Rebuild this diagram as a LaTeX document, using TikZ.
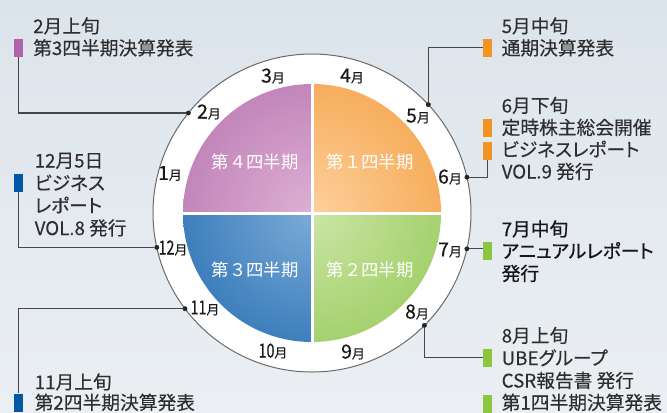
\documentclass[tikz,border=0pt]{standalone}
\usepackage{fontspec}
\usepackage{graphicx}
\setmainfont{Noto Sans CJK JP}
\newfontfamily\jp{Noto Sans CJK JP}
\newfontfamily\jpr[FakeBold=0.2,RawFeature=+palt]{Noto Sans CJK JP}
\newfontfamily\jpm[FakeBold=0.4]{Noto Sans CJK JP}
\newfontfamily\jpb[FakeBold=0.8,RawFeature=+palt]{Noto Sans CJK JP}
\usetikzlibrary{calc}
\definecolor{bgA}{HTML}{DCE4EB}
\definecolor{bgB}{HTML}{EBEFF3}
\definecolor{ringc}{HTML}{6A6A6A}
\definecolor{lnc}{HTML}{474747}
\definecolor{txtc}{HTML}{2E2E2E}
\definecolor{txtb}{HTML}{161616}
\definecolor{q1i}{HTML}{FCD09C}
\definecolor{q1o}{HTML}{F28C1E}
\definecolor{q2i}{HTML}{CCE5A5}
\definecolor{q2o}{HTML}{7DBD36}
\definecolor{q3i}{HTML}{7BABD7}
\definecolor{q3o}{HTML}{0052A2}
\definecolor{q4i}{HTML}{DDB0D4}
\definecolor{q4o}{HTML}{A85CA1}
\definecolor{mpur}{HTML}{B262A8}
\definecolor{mora}{HTML}{F39322}
\definecolor{mblu}{HTML}{0058A8}
\definecolor{mgre}{HTML}{8CC63E}
\newcommand\mo[1]{{\fontsize{19.5}{21}\selectfont #1}{\fontsize{13}{15}\selectfont 月}}
\newcommand\mt[1]{\mo{\scalebox{0.74}[1]{#1}}}
\tikzset{
  lbl/.style={anchor=base west, inner sep=0pt, text=txtc, font=\jpr\fontsize{18.8}{22}\selectfont},
  lblb/.style={lbl, text=txtb, font=\jpb\fontsize{18.8}{22}\selectfont},
  mk/.style={rectangle, inner sep=0pt, minimum width=9bp, minimum height=18bp},
  mon/.style={inner sep=0pt, text=black!90, font=\jpm},
  ql/.style={text=white, inner sep=0pt, font=\jp\fontsize{17.4}{20}\selectfont},
  ln/.style={draw=lnc, line width=1.2bp},
  dotc/.style={circle, fill=black!85, inner sep=0pt, minimum size=4.6bp},
}
\begin{document}
\begin{tikzpicture}[x=1bp,y=-1bp]
\useasboundingbox (0,0) rectangle (667,412);
\shade[top color=bgA, bottom color=bgB] (0,0) rectangle (667,412);
\coordinate (c) at (312,213);
% ring
\fill[white, draw=ringc, line width=1bp] (c) circle (159);
% quadrants
\begin{scope}
  \clip (c) circle (129);
  \begin{scope}\clip (c) rectangle ++(130,-130);
    \shade[inner color=q1i, outer color=q1o] (c) circle (258);\end{scope}
  \begin{scope}\clip (c) rectangle ++(130,130);
    \shade[inner color=q2i, outer color=q2o] (c) circle (258);\end{scope}
  \begin{scope}\clip (c) rectangle ++(-130,130);
    \shade[inner color=q3i, outer color=q3o] (c) circle (258);\end{scope}
  \begin{scope}\clip (c) rectangle ++(-130,-130);
    \shade[inner color=q4i, outer color=q4o] (c) circle (258);\end{scope}
\end{scope}
\draw[white, line width=3bp] ($(c)+(-131,0)$) -- ($(c)+(131,0)$);
\draw[white, line width=3bp] ($(c)+(0,-131)$) -- ($(c)+(0,131)$);
% quadrant labels
\node[ql] (q4) at (255,161.7) {第４四半期};
\node[ql] (q1) at (370,161.7) {第１四半期};
\node[ql] (q3) at (255,270) {第３四半期};
\node[ql] (q2) at (370,270) {第２四半期};
% month labels
\node[mon] (m3) at (273,76) {\mo{3}};
\node[mon] (m4) at (352,76) {\mo{4}};
\node[mon] (m5) at (418,116) {\mo{5}};
\node[mon] (m6) at (450,177) {\mo{6}};
\node[mon] (m7) at (450,250) {\mo{7}};
\node[mon] (m8) at (417,312) {\mo{8}};
\node[mon] (m9) at (353,352) {\mo{9}};
\node[mon] (m10) at (273,351) {\mt{10}};
\node[mon] (m11) at (205,308) {\mt{11}};
\node[mon] (m12) at (173,248) {\mt{12}};
\node[mon] (m1) at (170,173.5) {\mo{1}};
\node[mon] (m2) at (209,112) {\mo{2}};
% dots on the ring
\node[dotc] (d2) at (188.4,113) {};
\node[dotc] (d5) at (428.3,104.6) {};
\node[dotc] (d6) at (466.9,177.2) {};
\node[dotc] (d7) at (466.9,248.8) {};
\node[dotc] (d8) at (424.4,325.4) {};
\node[dotc] (d11) at (185,308.7) {};
\node[dotc] (d12) at (156.8,247.4) {};
% markers
\node[mk, fill=mpur] (mA) at (18.5,47.5) {};
\node[mk, fill=mora] (mB) at (487.2,47.5) {};
\node[mk, fill=mora] (mC1) at (487.2,128.3) {};
\node[mk, fill=mora] (mC2) at (487.2,150.5) {};
\node[mk, fill=mblu] (mD) at (18.5,182.5) {};
\node[mk, fill=mblu] (mE) at (18.5,402.5) {};
\node[mk, fill=mgre] (mF) at (487.2,251) {};
\node[mk, fill=mgre] (mG1) at (487.2,357.5) {};
\node[mk, fill=mgre] (mG2) at (487.2,403.5) {};
% connectors
\draw[ln] (mA.south) |- (d2);
\draw[ln] (d5) |- (mB.west);
\draw[ln] (d6) -| (mC2.south);
\draw[ln] (d7) -- (d7 -| mF.west);
\draw[ln] (d8) |- (mG1.west);
\draw[ln] (mD.south) |- (d12);
\draw[ln] (d11) -| (mE.north);
\foreach \d in {d2,d5,d6,d7,d8,d11,d12} \fill[black!85] (\d) circle (2.3);
% texts
\node[lbl] (a1) at (33,33) {2月上旬};
\node[lbl] (a2) at (33,55) {第3四半期決算発表};
\node[lbl] (b1) at (501.5,33) {5月中旬};
\node[lbl] (b2) at (501.5,55) {通期決算発表};
\node[lbl] (c1) at (501.5,112.5) {6月下旬};
\node[lbl] (c2) at (501.5,134.5) {定時株主総会開催};
\node[lbl] (c3) at (501.5,156.5) {ビジネスレポート};
\node[lbl] (c4) at (501.5,178.5) {VOL.9 発行};
\node[lbl] (e1) at (34.5,167.5) {12月5日};
\node[lbl] (e2) at (34.5,190) {ビジネス};
\node[lbl] (e3) at (34.5,212.5) {レポート};
\node[lbl] (e4) at (34.5,235) {VOL.8 発行};
\node[lbl] (f1) at (34.5,389) {11月上旬};
\node[lbl] (f2) at (34.5,409.5) {第2四半期決算発表};
\node[lblb] (g1) at (501.5,236) {7月中旬};
\node[lblb] (g2) at (501.5,258) {アニュアルレポート};
\node[lblb] (g3) at (501.5,280.5) {発行};
\node[lbl] (h1) at (501.5,342.5) {8月上旬};
\node[lbl] (h2) at (501.5,365) {UBEグループ};
\node[lbl] (h3) at (501.5,387.5) {CSR報告書 発行};
\node[lbl] (h4) at (501.5,409.5) {第1四半期決算発表};
\end{tikzpicture}
\end{document}
